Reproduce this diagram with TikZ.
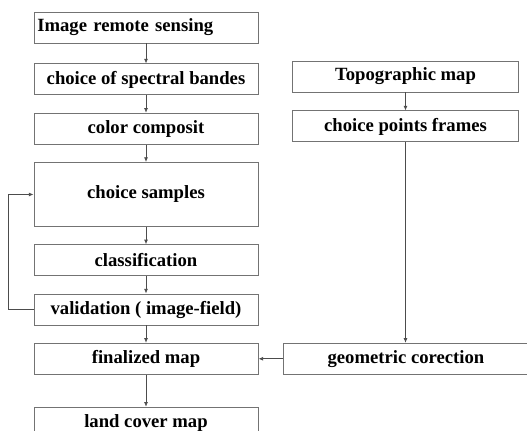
\documentclass[tikz,border=0pt]{standalone}
\usepackage{fontspec}
\setmainfont{Liberation Serif}
\usepackage{tikz}
\usetikzlibrary{positioning}
\usetikzlibrary{arrows.meta}

\tikzset{
  stepbox/.style={draw=black!55, line width=0.7pt, minimum width=168pt, minimum height=23.25pt,
    inner sep=2pt, font=\fontsize{14}{16}\selectfont\bfseries},
  flow/.style={-{Latex[length=3.5pt,width=3pt]}, draw=black!70, line width=0.6pt}
}

\begin{document}
\begin{tikzpicture}[x=0.75pt,y=-0.75pt, node distance=13pt]
\useasboundingbox (0,0) rectangle (527,430);
\node[stepbox, text width=163pt, align=left] (image) at (146,27.5) {Image remote sensing} ;
\node[stepbox, below=15pt of image] (bands) {choice of spectral bandes};
\node[stepbox, below=of bands] (compo) {color composit};
\node[stepbox, below=of compo, minimum height=48pt] (samples) {choice samples};
\node[stepbox, below=of samples] (classif) {classification};
\node[stepbox, below=of classif] (valid) {validation ( image-field)};
\node[stepbox, below=of valid] (final) {finalized map};
\node[stepbox, below=24pt of final] (landcover) {land cover map};
\node[stepbox, minimum width=170pt] (topo) at (405.5,76.5) {Topographic map};
\node[stepbox, minimum width=170pt, below=13.5pt of topo] (frames) {choice points frames};
\node[stepbox, minimum width=183pt, right=18.75pt of final] (geocorr) {geometric corection};
\draw[flow] (image) -- (bands) ;
\draw[flow] (bands) -- (compo) ;
\draw[flow] (compo) -- (samples) ;
\draw[flow] (samples) -- (classif) ;
\draw[flow] (classif) -- (valid) ;
\draw[flow] (valid) -- (final) ;
\draw[flow] (final) -- (landcover) ;
\draw[flow] (valid.west) -- ++(-19pt,0) |- (samples.west) ;
\draw[flow] (topo) -- (frames) ;
\draw[flow] (frames.south) -- (frames.south |- geocorr.north) ;
\draw[flow] (geocorr) -- (final) ;
\end{tikzpicture}
\end{document}
